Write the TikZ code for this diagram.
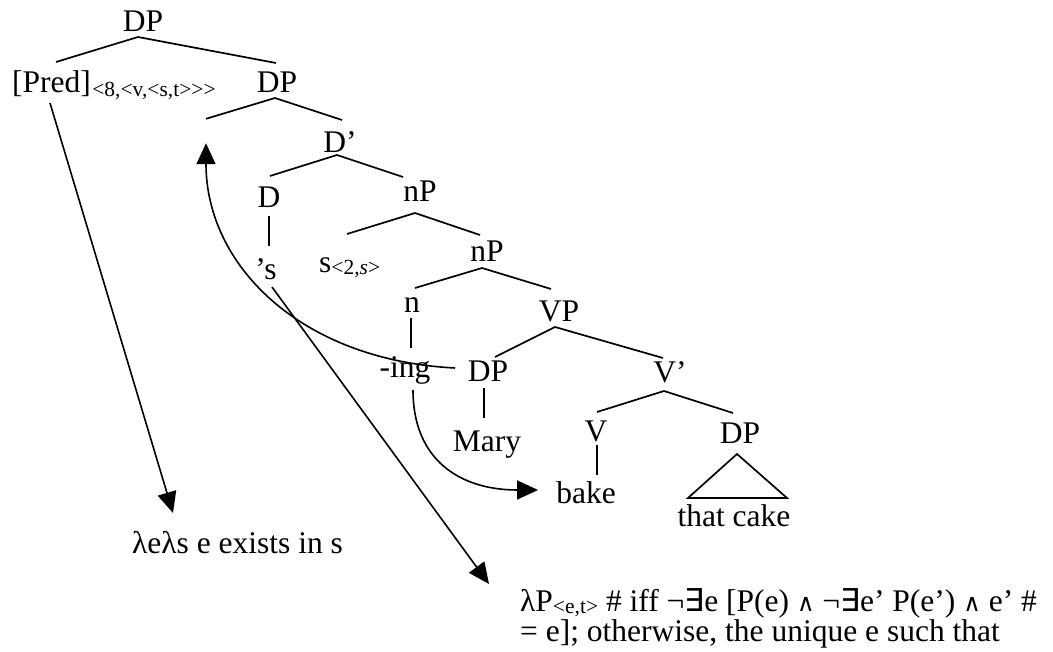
\documentclass[tikz,border=0pt]{standalone}
\usepackage{fontspec}
\setmainfont{Liberation Serif}
\newfontfamily\symfont{DejaVu Sans}
\newfontfamily\wedgefont{DejaVu Serif}
\usetikzlibrary{arrows.meta,calc}
\newcommand\subsz[1]{{\fontsize{21.5}{21.5}\selectfont #1}}
\newcommand\gt{>\kern0pt}
\newcommand\wdg{{\wedgefont\fontsize{24}{24}\selectfont ∧}}
\tikzset{
  lbl/.style={inner sep=0pt, anchor=base, font=\fontsize{31.5}{33}\selectfont},
  lblw/.style={lbl, anchor=base west},
  subl/.style={inner sep=0pt, anchor=base west, font=\fontsize{21.5}{21.5}\selectfont},
  branch/.style={line width=1.7pt},
  arr/.style={line width=1.6pt, -{Triangle[length=21pt,width=19pt]}},
}
\begin{document}
\begin{tikzpicture}[x=1pt,y=-1pt]
\useasboundingbox (0,0) rectangle (1053,652);
% nodes
\node[lbl]  (dp1)  at (143,32)  {DP};
\node[lblw] (pred) at (12,93)   {[Pred]};
\node[subl] (predsub) at ($(pred.base east)+(1,4)$) {<8,<v,<s,t\gt\gt\gt};
\node[lbl]  (dp2)  at (277,93)  {DP};
\node[inner sep=0pt, minimum height=24pt, minimum width=2pt] (gap) at (206,131) {};
\node[lbl]  (dbar) at (340,153) {D’};
\node[lbl]  (d)    at (269,208) {D};
\node[lbl]  (s)    at (266,280) {’s};
\node[lbl]  (np1)  at (420,202) {nP};
\node[lblw] (ssub) at (319,273) {s\raisebox{-2pt}{\subsz{<2,\textit{s}\gt}}};
\node[lbl]  (np2)  at (487,262) {nP};
\node[lbl]  (n)    at (412,313) {n};
\node[lbl]  (ing)  at (405,378) {-ing};
\node[lbl]  (vp)   at (559,322) {VP};
\node[lbl]  (dp3)  at (488,382) {DP};
\node[lbl]  (vbar) at (670,383) {V’};
\node[lbl]  (mary) at (487,451) {Mary};
\node[lbl]  (v)    at (596,442) {V};
\node[lbl]  (bake) at (586,503) {bake};
\node[lbl]  (dp4)  at (740,443) {DP};
\node[lbl]  (cake) at (734,526) {that cake};
\node[lblw] (lam1) at (132,553) {λeλs e exists in s};
\node[inner sep=0pt, anchor=north west, align=left, font=\fontsize{31.5}{30}\selectfont] (lamP) at (520,588)
  {λP\raisebox{-2pt}{\subsz{<e,t\gt}} \# iff ¬{\symfont ∃}e [P(e) \wdg{} ¬{\symfont ∃}e’ P(e’) \wdg{} e’ \#\\
   = e]; otherwise, the unique e such that};
\coordinate (lamtip) at ($(lamP.north west)+(-31,-4)$);
% branches
\draw[branch] ($(pred.base west)+(44,-31)$) -- ($(dp1.base)+(-5,5)$) -- ($(dp2.base)+(-1,-30)$);
\draw[branch] (gap.north) -- ($(dp2.base)+(-2,5)$) -- ($(dbar.base)+(2,-33)$);
\draw[branch] ($(d.base)+(1,-32)$) -- ($(dbar.base)+(-3,2)$) -- ($(np1.base)+(-17,-25)$);
\draw[branch] ($(d.base)+(0,8)$) -- ($(s.base)+(3,-34)$);
\draw[branch] ($(ssub.base west)+(28,-39)$) -- ($(np1.base)+(-5,11)$) -- ($(np2.base)+(-7,-27)$);
\draw[branch] ($(n.base)+(3,-25)$) -- ($(np2.base)+(-5,6)$) -- ($(vp.base)+(-8,-33)$);
\draw[branch] ($(n.base)+(-1,5)$) -- ($(ing.base)+(6,-30)$);
\draw[branch] ($(dp3.base)+(7,-25)$) -- ($(vp.base)+(-4,5)$) -- ($(vbar.base)+(-7,-25)$);
\draw[branch] ($(dp3.base)+(-4,6)$) -- ($(mary.base)+(-3,-33)$);
\draw[branch] ($(v.base)+(1,-30)$) -- ($(vbar.base)+(-6,8)$) -- ($(dp4.base)+(-7,-30)$);
\draw[branch] ($(v.base)+(1,3)$) -- ($(bake.base)+(11,-28)$);
\draw[branch] ($(dp4.base)+(-3,11)$) -- ($(cake.base)+(-46,-28)$) -- ($(cake.base)+(53,-28)$) -- cycle;
% arrows
\draw[arr] ($(pred.base west)+(38,10)$) -- ($(lam1.base west)+(41,-40)$);
\draw[arr] ($(s.base)+(6,7)$) -- (lamtip);
\draw[arr] ($(dp3.base)+(-33,-14)$) .. controls (300,360) and (206,265) .. (gap.south);
\draw[arr] ($(ing.base)+(8,12)$) .. controls (413,460) and (460,490) .. ($(bake.base west)+(-18,-13)$);
\end{tikzpicture}
\end{document}
